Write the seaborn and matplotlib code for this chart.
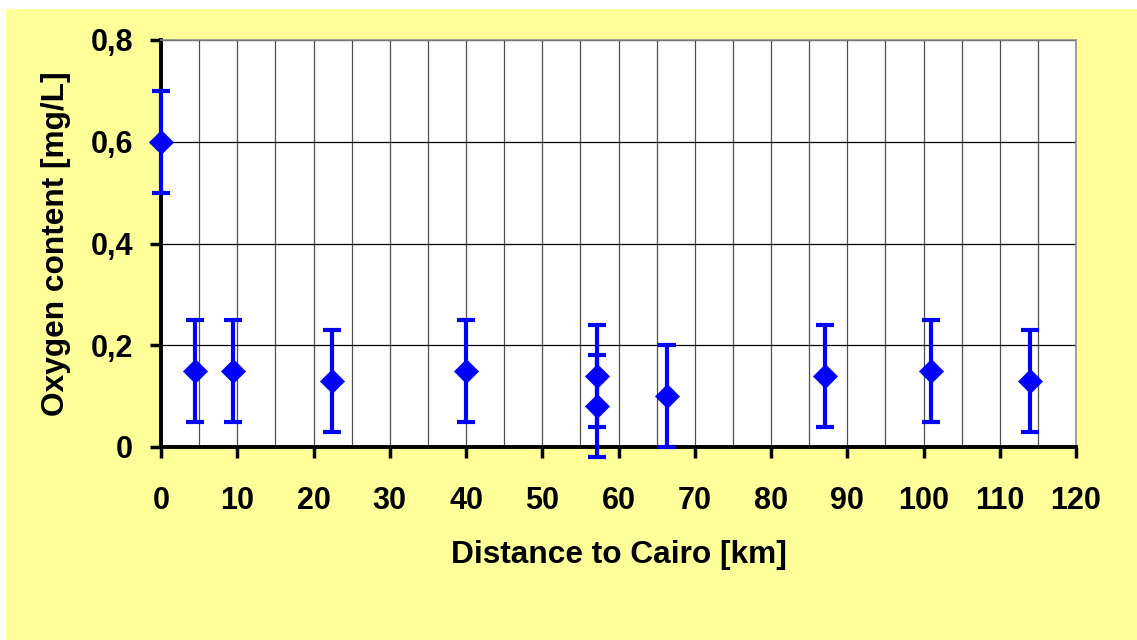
import matplotlib
matplotlib.use("Agg")
import matplotlib.pyplot as plt
from matplotlib.patches import Rectangle
from matplotlib.ticker import FuncFormatter, MultipleLocator
import seaborn as sns
import pandas as pd

# Dissolved oxygen along the Nile downstream of Cairo
distance_km = [0, 4.5, 9.4, 22.4, 40.0, 57.2, 57.2, 66.4, 87.1, 101.0, 114.0]
oxygen_mg_l = [0.60, 0.15, 0.15, 0.13, 0.15, 0.14, 0.08, 0.10, 0.14, 0.15, 0.13]
oxygen_err = [0.10, 0.10, 0.10, 0.10, 0.10, 0.10, 0.10, 0.10, 0.10, 0.10, 0.10]

x_ticks = [0, 10, 20, 30, 40, 50, 60, 70, 80, 90, 100, 110, 120]
y_ticks = [0, 0.2, 0.4, 0.6, 0.8]

df = pd.DataFrame({"distance": distance_km, "oxygen": oxygen_mg_l, "err": oxygen_err})

sns.set_style("white")
plt.rcParams["font.family"] = ["Liberation Sans", "DejaVu Sans"]
plt.rcParams["font.weight"] = "bold"
plt.rcParams["text.color"] = "black"
plt.rcParams["axes.labelcolor"] = "black"
plt.rcParams["xtick.color"] = "black"
plt.rcParams["ytick.color"] = "black"

fig = plt.figure(figsize=(11.37, 6.4), dpi=100, facecolor="white")
fig.patches.append(Rectangle((6 / 1137, 0), 1 - 6 / 1137, 1 - 9 / 640,
                             transform=fig.transFigure, facecolor="#FFFF99",
                             edgecolor="none", zorder=-10))

ax = fig.add_axes([161 / 1137, 1 - 447 / 640, (1076 - 161) / 1137, (447 - 40) / 640])
ax.set_zorder(1)
ax.set_facecolor("white")

blue = "#0000FF"
ax.errorbar(df["distance"], df["oxygen"], yerr=df["err"], fmt="none",
            ecolor=blue, elinewidth=3.0, capsize=6.5, capthick=3.0,
            zorder=3, clip_on=False)
sns.scatterplot(data=df, x="distance", y="oxygen", marker="D", s=150,
                color=blue, edgecolor=blue, linewidth=0.5, ax=ax,
                zorder=4, clip_on=False, legend=False)

ax.set_xlim(0, 120)
ax.set_ylim(0, 0.8)
ax.set_xticks(x_ticks)
ax.set_yticks(y_ticks)
ax.xaxis.set_minor_locator(MultipleLocator(5))
ax.yaxis.set_major_formatter(FuncFormatter(
    lambda v, _: "0" if abs(v) < 1e-9 else f"{v:.1f}".replace(".", ",")))

ax.grid(which="major", axis="y", color="black", linewidth=0.9)
ax.grid(which="both", axis="x", color="#505050", linewidth=0.9)
ax.set_axisbelow(True)

ax.tick_params(axis="both", which="major", direction="out", length=8, width=2.5,
               color="black", labelcolor="black", labelsize=22,
               bottom=True, left=True)
ax.tick_params(axis="x", which="minor", length=0)
ax.tick_params(axis="x", pad=20)
ax.tick_params(axis="y", pad=12)
for lab in ax.get_xticklabels() + ax.get_yticklabels():
    lab.set_fontweight("bold")

for side in ["left", "bottom"]:
    ax.spines[side].set_color("black")
    ax.spines[side].set_linewidth(2.8)
for side in ["top", "right"]:
    ax.spines[side].set_color("#909090")
    ax.spines[side].set_linewidth(1.2)
    ax.spines[side].set_visible(True)

ax.set_xlabel("Distance to Cairo [km]", fontsize=22.8, fontweight="bold", color="black")
ax.set_ylabel("Oxygen content [mg/L]", fontsize=22.8, fontweight="bold", color="black")
ax.xaxis.set_label_coords(0.5, -0.2285)
ax.yaxis.set_label_coords(-0.098, 0.5)

fig.savefig("out.png", dpi=100, facecolor=fig.get_facecolor())
